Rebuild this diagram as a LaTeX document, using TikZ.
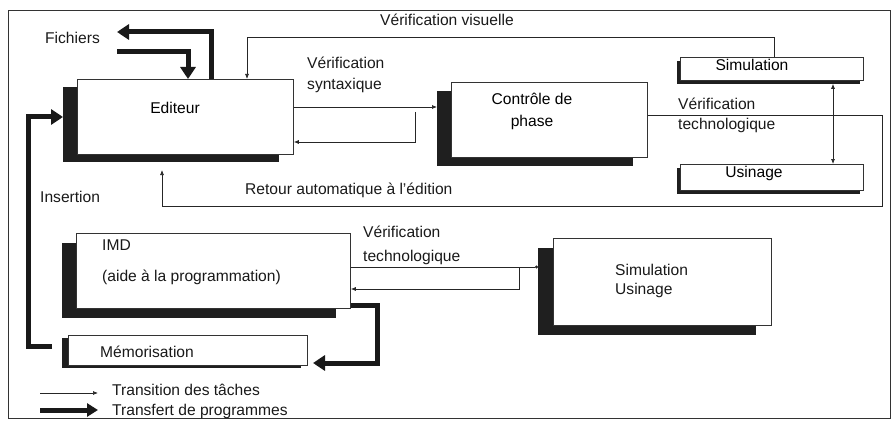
\documentclass[tikz,border=0pt]{standalone}
\usepackage{fontspec}
\setmainfont{Liberation Sans}
\usetikzlibrary{arrows.meta,shadows}
\begin{document}
\begin{tikzpicture}[x=1pt,y=-1pt,
  font=\fontsize{15.6}{18}\selectfont,
  box/.style={draw=black!80, line width=0.8pt, fill=white, anchor=north west, inner sep=0pt},
  shad/.style 2 args={drop shadow={shadow xshift=#1, shadow yshift=#2, fill=black!88, opacity=1}},
  tarr/.style={line width=0.7pt, draw=black!85, -{Latex[length=5pt,width=4pt]}},
  tline/.style={line width=0.7pt, draw=black!85},
  karr/.style={line width=5pt, draw=black!90, -{Triangle[length=12pt,width=15pt]}},
  lbl/.style={anchor=west, inner sep=0pt, text=black!90},
  two/.style={align=left, font=\fontsize{15.6}{#1}\selectfont},
]
\useasboundingbox (0,0) rectangle (894,433);
\draw[line width=0.9pt, black!80] (8,10) rectangle (890,418);

% boxes
\node[box, shad={-14pt}{-8pt}, minimum width=216pt, minimum height=75pt] (ed) at (77,79) {};
\node[box, shad={-14pt}{-9pt}, minimum width=196pt, minimum height=75pt] (cp) at (451,82) {};
\node[box, shad={-3pt}{-4pt}, minimum width=183pt, minimum height=23pt] (sim) at (680,57) {};
\node[box, shad={-3pt}{-4pt}, minimum width=183pt, minimum height=26pt] (usi) at (680,164) {};
\node[box, shad={-14pt}{-10pt}, minimum width=274pt, minimum height=75pt] (imd) at (76,233) {};
\node[box, shad={-6pt}{-3pt}, minimum width=239pt, minimum height=30pt] (mem) at (68,335) {};
\node[box, shad={-15pt}{-10pt}, minimum width=218pt, minimum height=87pt] (su) at (553,238) {};

% texts
\node[lbl] (tfich) at (45,38) {Fichiers};
\node[lbl] (tvv) at (380,20) {Vérification visuelle};
\node[lbl, two=21pt] (tvs) at (307,75) {Vérification\\syntaxique};
\node[inner sep=0pt] (ted) at (175,108) {Editeur};
\node[inner sep=0pt, align=center, font=\fontsize{15.6}{22}\selectfont] (tcp) at (532,111) {Contrôle de\\phase};
\node[inner sep=0pt] (tsim) at (752,65) {Simulation};
\node[inner sep=0pt] (tusi) at (754,173) {Usinage};
\node[lbl, two=20pt] (tvt1) at (678,115) {Vérification\\technologique};
\node[lbl] (tret) at (245,190) {Retour automatique à l'édition};
\node[lbl] (tins) at (40,197) {Insertion};
\node[lbl] (timd) at (102,245) {IMD};
\node[lbl] (taide) at (102,277) {(aide à la programmation)};
\node[lbl, two=24pt] (tvt2) at (363,245) {Vérification\\technologique};
\node[lbl] (tmem) at (100,352) {Mémorisation};
\node[lbl, two=19pt] (tsu) at (615,281) {Simulation\\Usinage};
\node[lbl] (tleg1) at (112,390) {Transition des tâches};
\node[lbl] (tleg2) at (112,411) {Transfert de programmes};

% coordinates
\coordinate (f1) at (211,32);
\coordinate (fout) at (117,32);
\coordinate (fin) at (117,52);
\coordinate (f2) at (188,52);
\coordinate (vv1) at (774,37);
\coordinate (vv2) at (247,37);
\coordinate (s1) at (300,107);
\coordinate (s2) at (437,107);
\coordinate (r1) at (415,112);
\coordinate (r2) at (415,142);
\coordinate (t1) at (882,115);
\coordinate (t2) at (882,206);
\coordinate (t3) at (162,206);
\coordinate (t4) at (162,170);
\coordinate (d1) at (833,0);
\coordinate (i0) at (52,346);
\coordinate (i1) at (28,346);
\coordinate (i2) at (28,117);
\coordinate (i3) at (63,117);
\coordinate (m1) at (377,305);
\coordinate (m2) at (377,363);
\coordinate (m3) at (313,363);
\coordinate (g1) at (538,267);
\coordinate (g2) at (519,267);
\coordinate (g3) at (519,289);
\coordinate (l1a) at (40,393);
\coordinate (l1b) at (98,393);
\coordinate (l2a) at (40,410);
\coordinate (l2b) at (98,410);

% thick connectors
\draw[karr] (ed.north -| f1) -- (f1) -- (fout);
\draw[karr] (fin) -- (f2) -- (ed.north -| f2);
\draw[karr] (i0) -- (i1) -- (i2) -- (i3);
\draw[karr] (imd.east |- m1) -- (m1) -- (m2) -- (m3);

% thin connectors
\draw[tarr] (sim.north -| vv1) -- (vv1) -- (vv2) -- (ed.north -| vv2);
\draw[tarr] (ed.east |- s1) -- (s2);
\draw[tarr] (r1) -- (r2) -- (ed.east |- r2);
\draw[tarr] (cp.east |- t1) -- (t1) -- (t2) -- (t3) -- (t4);
\draw[tline, {Latex[length=5pt,width=4pt]}-{Latex[length=5pt,width=4pt]}] ([yshift=-3pt]sim.south -| d1) -- (usi.north -| d1);
\draw[tline, -{Circle[length=3pt]}] (imd.east |- g1) -- (g1);
\draw[tarr] (g2) -- (g3) -- (imd.east |- g3);

% legend
\draw[tarr] (l1a) -- (l1b);
\draw[karr, -{Triangle[length=11pt,width=13pt]}] (l2a) -- (l2b);
\end{tikzpicture}
\end{document}
